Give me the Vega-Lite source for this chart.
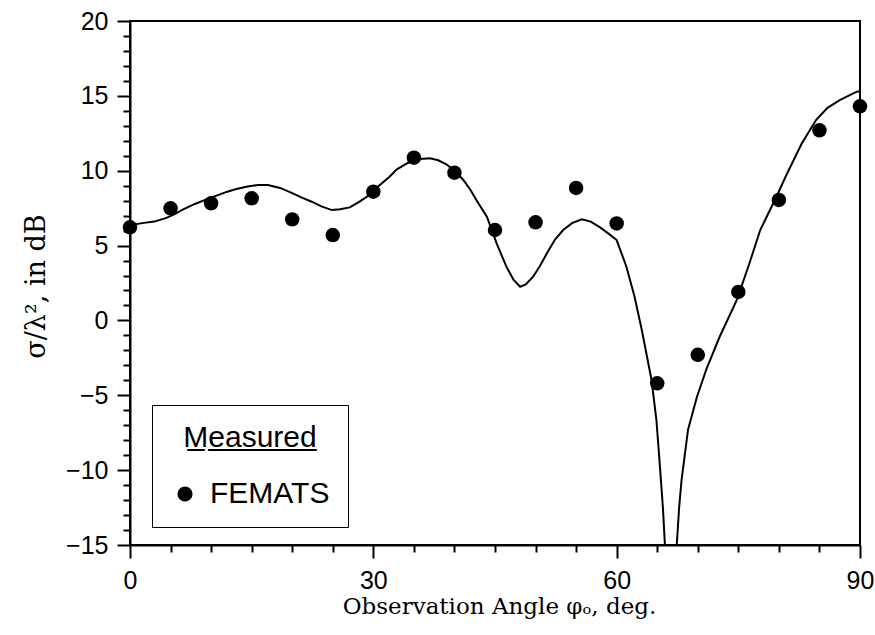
{
  "$schema": "https://vega.github.io/schema/vega-lite/v6.json",
  "width": 730,
  "height": 524,
  "autosize": {"type": "none"},
  "padding": {"left": 130, "top": 21, "right": 15, "bottom": 90},
  "background": "white",
  "config": {
    "view": {"stroke": "black", "strokeWidth": 2},
    "axis": {"domainColor": "black", "domainWidth": 2, "tickColor": "black", "tickWidth": 2, "grid": false, "labelColor": "black", "titleColor": "black", "labelOverlap": false, "labelFlush": false}
  },
  "datasets": {
    "curve": [
      {"angle": 0, "rcs": 6.35}, {"angle": 1.5, "rcs": 6.5}, {"angle": 3, "rcs": 6.6}, {"angle": 4.5, "rcs": 6.85},
      {"angle": 5.5, "rcs": 7.1}, {"angle": 6.5, "rcs": 7.4}, {"angle": 8, "rcs": 7.78}, {"angle": 9.5, "rcs": 8.1},
      {"angle": 10.5, "rcs": 8.3}, {"angle": 12, "rcs": 8.6}, {"angle": 13, "rcs": 8.76}, {"angle": 14.5, "rcs": 8.95},
      {"angle": 15.8, "rcs": 9.04}, {"angle": 17, "rcs": 9.05}, {"angle": 18.5, "rcs": 8.85}, {"angle": 20, "rcs": 8.5},
      {"angle": 21.2, "rcs": 8.2}, {"angle": 22.4, "rcs": 7.93}, {"angle": 23.6, "rcs": 7.62}, {"angle": 24.9, "rcs": 7.37},
      {"angle": 25.9, "rcs": 7.42}, {"angle": 27.1, "rcs": 7.55}, {"angle": 28.2, "rcs": 7.9}, {"angle": 29.2, "rcs": 8.26},
      {"angle": 30.8, "rcs": 9.04}, {"angle": 32, "rcs": 9.6}, {"angle": 32.9, "rcs": 10.09}, {"angle": 34.2, "rcs": 10.5},
      {"angle": 35.3, "rcs": 10.76}, {"angle": 37, "rcs": 10.83}, {"angle": 38, "rcs": 10.7}, {"angle": 39, "rcs": 10.43},
      {"angle": 40, "rcs": 10.0}, {"angle": 41.1, "rcs": 9.38}, {"angle": 42, "rcs": 8.7}, {"angle": 42.7, "rcs": 8.04},
      {"angle": 44, "rcs": 6.93}, {"angle": 45.2, "rcs": 5.15}, {"angle": 46.4, "rcs": 3.59}, {"angle": 47.3, "rcs": 2.7},
      {"angle": 48.1, "rcs": 2.25}, {"angle": 48.8, "rcs": 2.4}, {"angle": 49.7, "rcs": 2.92}, {"angle": 50.5, "rcs": 3.6},
      {"angle": 51.4, "rcs": 4.48}, {"angle": 52.4, "rcs": 5.4}, {"angle": 53.4, "rcs": 6.04}, {"angle": 54.5, "rcs": 6.5},
      {"angle": 55.7, "rcs": 6.75}, {"angle": 56.8, "rcs": 6.6}, {"angle": 58, "rcs": 6.2}, {"angle": 59, "rcs": 5.8},
      {"angle": 60, "rcs": 5.37}, {"angle": 61.2, "rcs": 3.59}, {"angle": 62.2, "rcs": 1.6}, {"angle": 63.1, "rcs": -0.64},
      {"angle": 64.3, "rcs": -3.98}, {"angle": 64.9, "rcs": -6.65}, {"angle": 65.3, "rcs": -9.5}, {"angle": 65.7, "rcs": -12.5},
      {"angle": 66.0, "rcs": -15.5}, {"angle": 66.7, "rcs": -40}, {"angle": 67.35, "rcs": -15.5},
      {"angle": 67.7, "rcs": -12.5}, {"angle": 68.0, "rcs": -10.66}, {"angle": 68.8, "rcs": -7.3}, {"angle": 69.9, "rcs": -5.1},
      {"angle": 71.1, "rcs": -3.2}, {"angle": 72.7, "rcs": -1.09}, {"angle": 74.8, "rcs": 1.36}, {"angle": 76.3, "rcs": 3.7},
      {"angle": 77.7, "rcs": 6.04}, {"angle": 79.7, "rcs": 8.26}, {"angle": 81, "rcs": 9.8}, {"angle": 82.8, "rcs": 11.8},
      {"angle": 84.6, "rcs": 13.4}, {"angle": 86, "rcs": 14.2}, {"angle": 87.5, "rcs": 14.72}, {"angle": 89.6, "rcs": 15.28},
      {"angle": 90, "rcs": 15.3}
    ],
    "measured": [
      {"angle": 0, "rcs": 6.22, "source": "FEMATS"}, {"angle": 5, "rcs": 7.49, "source": "FEMATS"},
      {"angle": 10, "rcs": 7.82, "source": "FEMATS"}, {"angle": 15, "rcs": 8.16, "source": "FEMATS"},
      {"angle": 20, "rcs": 6.75, "source": "FEMATS"}, {"angle": 25, "rcs": 5.7, "source": "FEMATS"},
      {"angle": 30, "rcs": 8.6, "source": "FEMATS"}, {"angle": 35, "rcs": 10.87, "source": "FEMATS"},
      {"angle": 40, "rcs": 9.87, "source": "FEMATS"}, {"angle": 45, "rcs": 6.04, "source": "FEMATS"},
      {"angle": 50, "rcs": 6.55, "source": "FEMATS"}, {"angle": 55, "rcs": 8.85, "source": "FEMATS"},
      {"angle": 60, "rcs": 6.48, "source": "FEMATS"}, {"angle": 65, "rcs": -4.2, "source": "FEMATS"},
      {"angle": 70, "rcs": -2.3, "source": "FEMATS"}, {"angle": 75, "rcs": 1.9, "source": "FEMATS"},
      {"angle": 80, "rcs": 8.05, "source": "FEMATS"}, {"angle": 85, "rcs": 12.7, "source": "FEMATS"},
      {"angle": 90, "rcs": 14.3, "source": "FEMATS"}
    ]
  },
  "encoding": {
    "x": {
      "field": "angle", "type": "quantitative",
      "scale": {"domain": [0, 90], "nice": false, "zero": false},
      "axis": {
        "values": [0, 5, 10, 15, 20, 25, 30, 35, 40, 45, 50, 55, 60, 65, 70, 75, 80, 85, 90],
        "labelExpr": "datum.value % 30 === 0 ? datum.label : ''",
        "tickSize": {"condition": {"test": "datum.value % 30 === 0", "value": 13}, "value": 7},
        "labelPadding": 10,
        "labelFont": "Liberation Sans", "labelFontSize": 25,
        "title": "Observation Angle φₒ, deg.",
        "titleFont": "DejaVu Serif", "titleFontSize": 23, "titleFontWeight": "normal",
        "titleBaseline": "alphabetic", "titleY": 68, "titleX": 369
      }
    },
    "y": {
      "field": "rcs", "type": "quantitative",
      "scale": {"domain": [-15, 20], "nice": false, "zero": false},
      "axis": {
        "values": [-15, -14, -13, -12, -11, -10, -9, -8, -7, -6, -5, -4, -3, -2, -1, 0, 1, 2, 3, 4, 5, 6, 7, 8, 9, 10, 11, 12, 13, 14, 15, 16, 17, 18, 19, 20],
        "labelExpr": "datum.value % 5 === 0 ? datum.label : ''",
        "tickSize": {"condition": {"test": "datum.value % 5 === 0", "value": 13}, "value": 7},
        "labelPadding": 9,
        "labelFont": "Liberation Sans", "labelFontSize": 25,
        "title": "σ/λ², in dB",
        "titleFont": "DejaVu Serif", "titleFontSize": 27, "titleFontWeight": "normal",
        "titleX": -94, "titleY": 265, "titleAngle": -90, "titleBaseline": "middle", "titleAlign": "center"
      }
    }
  },
  "layer": [
    {
      "data": {"name": "curve"},
      "mark": {"type": "line", "color": "black", "strokeWidth": 2, "clip": true},
      "encoding": {}
    },
    {
      "data": {"name": "measured"},
      "mark": {"type": "circle", "size": 210, "opacity": 1},
      "encoding": {
        "color": {
          "field": "source", "type": "nominal",
          "scale": {"range": ["black"]},
          "legend": {
            "orient": "none", "legendX": 22, "legendY": 384,
            "title": "M\u0332e\u0332a\u0332s\u0332u\u0332r\u0332e\u0332d\u0332",
            "titleFont": "Liberation Sans", "titleFontSize": 30, "titleFontWeight": "normal", "titleColor": "black",
            "titleAnchor": "middle", "titlePadding": 26,
            "labelFont": "Liberation Sans", "labelFontSize": 30, "labelColor": "black", "labelOffset": 10,
            "labelExpr": "datum.label + '\u00a0\u00a0\u00a0\u00a0\u00a0\u00a0'",
            "symbolType": "circle", "symbolSize": 230, "symbolStrokeWidth": 0,
            "strokeColor": "black", "padding": 18
          }
        }
      }
    }
  ]
}
